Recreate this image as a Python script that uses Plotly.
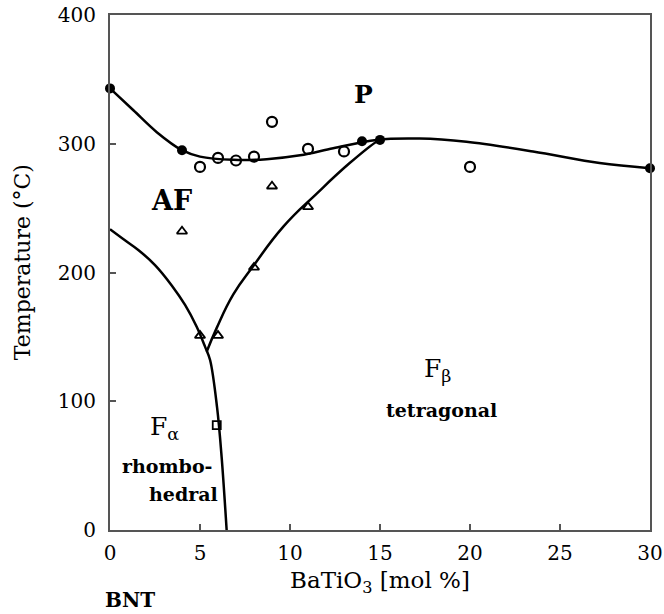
import plotly.graph_objects as go

# Phase boundary lines
upper_x = [0, 1.3, 2.6, 4, 5, 6.85, 8.7, 10.56, 12.4, 14.8, 17.2, 19.8, 23.5, 27.2, 30]
upper_y = [343, 326, 309, 295, 290, 287.5, 288, 291, 296.5, 303, 304, 301.5, 294, 285, 281]

left_x = [0, 0.83, 1.57, 2.5, 3.43, 4.17, 4.81, 5.28, 5.56, 5.95, 6.2, 6.48]
left_y = [233.6, 225, 217.5, 205.8, 190, 174.8, 158, 142.4, 132, 95, 57, 0]

right_x = [5.37, 5.93, 6.85, 7.96, 9.63, 11.5, 13.3, 14.8, 15.0]
right_y = [138.5, 157, 183, 205, 235.6, 261.5, 284.8, 301.6, 303]

# Measured points
filled_x = [0, 4, 14, 15, 30]
filled_y = [343, 295, 302, 303, 281]

open_x = [5, 6, 7, 8, 9, 11, 13, 20]
open_y = [282, 289, 287, 290, 317, 296, 294, 282]

tri_x = [4, 5, 6, 8, 9, 11]
tri_y = [232, 151, 151, 204, 267, 251]

sq_x = [5.93]
sq_y = [81.5]

x_ticks = [0, 5, 10, 15, 20, 25, 30]
y_ticks = [0, 100, 200, 300, 400]

FONT = "DejaVu Serif"

fig = go.Figure()
for xs, ys, sm in [(upper_x, upper_y, 1.0), (left_x, left_y, 1.0), (right_x, right_y, 1.3)]:
    fig.add_trace(go.Scatter(x=xs, y=ys, mode="lines",
                             line=dict(color="black", width=2.5, shape="spline", smoothing=sm),
                             showlegend=False, hoverinfo="skip"))

fig.add_trace(go.Scatter(x=open_x, y=open_y, mode="markers",
                         marker=dict(symbol="circle-open", size=10, color="black", line=dict(width=2.2)),
                         showlegend=False))
fig.add_trace(go.Scatter(x=filled_x, y=filled_y, mode="markers",
                         marker=dict(symbol="circle", size=10, color="black"),
                         showlegend=False, cliponaxis=False))
fig.add_trace(go.Scatter(x=tri_x, y=tri_y, mode="markers",
                         marker=dict(symbol="triangle-up-open", size=9, color="black", line=dict(width=1.8)),
                         showlegend=False))
fig.add_trace(go.Scatter(x=sq_x, y=sq_y, mode="markers",
                         marker=dict(symbol="square-open", size=8, color="black", line=dict(width=1.8)),
                         showlegend=False))

labels = [
    ("<b>P</b>", 14.06, 338, 25),
    ("<b>AF</b>", 3.44, 256, 27),
    ("F<sub>β</sub>", 18.2, 124, 25),
    ("<b>tetragonal</b>", 18.4, 93, 19),
    ("F<sub>α</sub>", 3.0, 79, 25),
    ("<b>rhombo-</b>", 3.17, 50, 19),
    ("<b>hedral</b>", 4.1, 28, 19),
]
for txt, x, y, s in labels:
    fig.add_annotation(x=x, y=y, text=txt, showarrow=False,
                       font=dict(family=FONT, size=s, color="black"))

# labels placed outside the plotting area (paper coordinates)
fig.add_annotation(x=0.037, y=-0.136, xref="paper", yref="paper", text="<b>BNT</b>",
                   xanchor="center", yanchor="middle",
                   showarrow=False, font=dict(family=FONT, size=20, color="black"))
fig.add_annotation(x=-0.163, y=0.52, xref="paper", yref="paper", text="Temperature (°C)",
                   xanchor="center", yanchor="middle", textangle=-90,
                   showarrow=False, font=dict(family=FONT, size=22, color="black"))

fig.update_layout(
    width=664, height=614,
    margin=dict(l=110, r=14, t=15, b=84),
    paper_bgcolor="white", plot_bgcolor="white",
    font=dict(family=FONT, color="black"),
    xaxis=dict(range=[0, 30], tickvals=x_ticks, ticks="inside", ticklen=6, tickwidth=1.5,
               tickcolor="#555", showline=True, linecolor="#555", linewidth=2, mirror=True,
               showgrid=False, zeroline=False, automargin=False, ticklabelstandoff=4,
               tickfont=dict(family=FONT, size=20),
               title=dict(text="BaTiO<sub>3</sub> [mol %]", font=dict(family=FONT, size=23), standoff=8)),
    yaxis=dict(range=[0, 400], tickvals=y_ticks, ticks="inside", ticklen=6, tickwidth=1.5,
               tickcolor="#555", showline=True, linecolor="#555", linewidth=2, mirror=True,
               showgrid=False, zeroline=False, automargin=False, ticklabelstandoff=8,
               tickfont=dict(family=FONT, size=20)),
)

fig.write_html("out.html", config={"displayModeBar": False},
               post_script="document.body.style.margin='0';document.body.style.overflow='hidden';")
